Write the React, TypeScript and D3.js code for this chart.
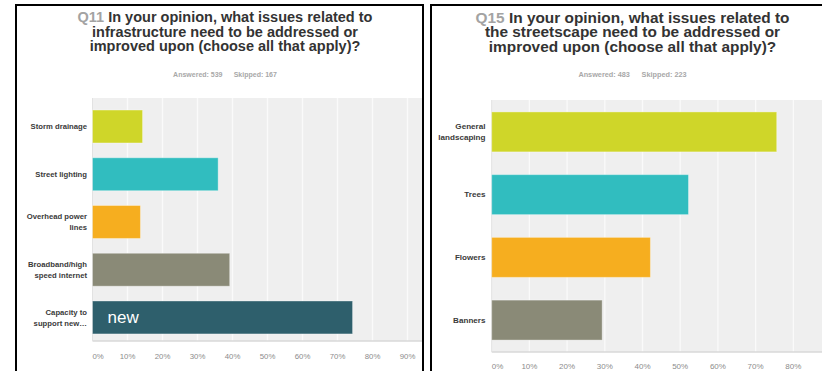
import React from "react";
import * as d3 from "d3";

const leftPrefix = "Q11";
const leftTitle = [
  "In your opinion, what issues related to",
  "infrastructure need to be addressed or",
  "improved upon (choose all that apply)?",
];
const leftAnswered = "Answered: 539";
const leftSkipped = "Skipped: 167";
const leftCategories = [
  "Storm drainage",
  "Street lighting",
  "Overhead power\nlines",
  "Broadband/high\nspeed internet",
  "Capacity to\nsupport new…",
];
const leftValues = [14.3, 35.9, 13.7, 39.2, 74.3];
const leftColors = ["#cfd629", "#31bdbf", "#f6ae1f", "#8a8a77", "#2e5f6c"];
const leftBarText = ["", "", "", "", "new"];
const leftTicks = [0, 10, 20, 30, 40, 50, 60, 70, 80, 90, 100];

const rightPrefix = "Q15";
const rightTitle = [
  "In your opinion, what issues related to",
  "the streetscape need to be addressed or",
  "improved upon (choose all that apply)?",
];
const rightAnswered = "Answered: 483";
const rightSkipped = "Skipped: 223";
const rightCategories = ["General\nlandscaping", "Trees", "Flowers", "Banners"];
const rightValues = [75.6, 52.2, 42.1, 29.3];
const rightColors = ["#cfd629", "#31bdbf", "#f6ae1f", "#8a8a77"];
const rightBarText = ["", "", "", ""];
const rightTicks = [0, 10, 20, 30, 40, 50, 60, 70, 80, 90];

const FONT = "'Liberation Sans', Arial, Helvetica, sans-serif";

type PanelProps = {
  id: string;
  box: { x: number; y: number; w: number; h: number };
  titleCx: number;
  titleSize: number;
  titleBase: number[];
  prefix: string;
  title: string[];
  answered: string;
  skipped: string;
  answeredY: number;
  statSize: number;
  categories: string[];
  values: number[];
  colors: string[];
  barText: string[];
  ticks: number[];
  x0: number;
  xStep10: number;
  yRange: [number, number];
  padInner: number;
  padOuter: number;
  align: number;
  plotTop: number;
  labelX: number;
  labelSize: number;
  labelLine: number;
  tickSize: number;
  tickY: number;
};

function Panel(p: PanelProps) {
  const x = d3.scaleLinear().domain([0, 10]).range([p.x0, p.x0 + p.xStep10]);
  const y = d3
    .scaleBand<string>()
    .domain(p.categories)
    .range(p.yRange)
    .paddingInner(p.padInner)
    .paddingOuter(p.padOuter)
    .align(p.align);
  const plotBottom = p.yRange[1];
  const right = p.box.x + p.box.w;
  return (
    <g>
      <defs>
        <clipPath id={p.id}>
          <rect x={p.box.x + 1} y={p.box.y + 1} width={p.box.w - 2} height={p.box.h - 2} />
        </clipPath>
      </defs>
      <g clipPath={`url(#${p.id})`}>
        <rect x={p.box.x} y={p.box.y} width={p.box.w} height={p.box.h} fill="#fff" />
        {p.title.map((t, i) => (
          <text
            key={i}
            x={p.titleCx}
            y={p.titleBase[i]}
            textAnchor="middle"
            fontFamily={FONT}
            fontSize={p.titleSize}
            fontWeight="bold"
            fill="#333"
          >
            {i === 0 ? (
              <>
                <tspan fill="#a3a3a3">{p.prefix} </tspan>
                {t}
              </>
            ) : (
              t
            )}
          </text>
        ))}
        <text
          x={p.titleCx}
          y={p.answeredY}
          textAnchor="middle"
          fontFamily={FONT}
          fontSize={p.statSize}
          fontWeight="bold"
          fill="#a8a8a8"
        >
          {p.answered}
          <tspan dx={p.statSize * 1.6}>{p.skipped}</tspan>
        </text>
        <rect
          x={p.x0}
          y={p.plotTop}
          width={right - p.x0}
          height={plotBottom - p.plotTop}
          fill="#efefef"
        />
        {p.ticks.slice(1).map((t) => (
          <line
            key={t}
            x1={x(t)}
            x2={x(t)}
            y1={p.plotTop}
            y2={plotBottom}
            stroke="#fafafa"
            strokeWidth={1.3}
          />
        ))}
        <line x1={p.x0} x2={right} y1={plotBottom} y2={plotBottom} stroke="#d9d9d9" strokeWidth={1.5} />
        <line x1={p.x0} x2={p.x0} y1={p.plotTop} y2={plotBottom} stroke="#e2e2e2" strokeWidth={1} />
        {p.categories.map((c, i) => (
          <g key={c}>
            <rect
              x={x(0)}
              y={y(c)!}
              width={x(p.values[i]) - x(0)}
              height={y.bandwidth()}
              fill={p.colors[i]}
              stroke="#ffffff"
              strokeOpacity={0.35}
              strokeWidth={1}
            />
            {p.barText[i] ? (
              <text
                x={x(0) + 15}
                y={y(c)! + y.bandwidth() / 2 + 6}
                fontFamily={FONT}
                fontSize={17}
                fill="#fff"
              >
                {p.barText[i]}
              </text>
            ) : null}
            {c.split("\n").map((ln, j, arr) => (
              <text
                key={j}
                x={p.labelX}
                y={
                  y(c)! +
                  y.bandwidth() / 2 +
                  (j - (arr.length - 1) / 2) * p.labelLine +
                  p.labelSize * 0.35
                }
                textAnchor="end"
                fontFamily={FONT}
                fontSize={p.labelSize}
                fontWeight="bold"
                fill="#3a3a3a"
              >
                {ln}
              </text>
            ))}
          </g>
        ))}
        {p.ticks.map((t, i) => (
          <text
            key={t}
            x={i === 0 ? x(0) : x(t)}
            y={p.tickY}
            textAnchor={i === 0 ? "start" : "middle"}
            fontFamily={FONT}
            fontSize={p.tickSize}
            fill="#8c8c8c"
          >
            {t}%
          </text>
        ))}
      </g>
      <rect
        x={p.box.x}
        y={p.box.y}
        width={p.box.w}
        height={p.box.h}
        fill="none"
        stroke="#000"
        strokeWidth={2}
      />
    </g>
  );
}

export default function App() {
  return (
    <svg
      width={822}
      height={371}
      style={{ position: "absolute", left: 0, top: 0, background: "#fff" }}
    >
      <Panel
        id="clipL"
        box={{ x: 16, y: 5, w: 407, h: 420 }}
        titleCx={225}
        titleSize={14.5}
        titleBase={[22, 36.5, 51]}
        prefix={leftPrefix}
        title={leftTitle}
        answered={leftAnswered}
        skipped={leftSkipped}
        answeredY={76.5}
        statSize={7}
        categories={leftCategories}
        values={leftValues}
        colors={leftColors}
        barText={leftBarText}
        ticks={leftTicks}
        x0={92.5}
        xStep10={35}
        yRange={[98, 341]}
        padInner={0.31}
        padOuter={0.2}
        align={0.63}
        plotTop={98}
        labelX={87}
        labelSize={7.7}
        labelLine={11}
        tickSize={7.8}
        tickY={359}
      />
      <Panel
        id="clipR"
        box={{ x: 431, y: 5, w: 420, h: 420 }}
        titleCx={632.5}
        titleSize={15.4}
        titleBase={[22.5, 36.5, 51.5]}
        prefix={rightPrefix}
        title={rightTitle}
        answered={rightAnswered}
        skipped={rightSkipped}
        answeredY={76.5}
        statSize={7.3}
        categories={rightCategories}
        values={rightValues}
        colors={rightColors}
        barText={rightBarText}
        ticks={rightTicks}
        x0={491.7}
        xStep10={37.7}
        yRange={[100, 352]}
        padInner={0.363}
        padOuter={0.19}
        align={0.5}
        plotTop={100}
        labelX={485.5}
        labelSize={8.1}
        labelLine={11.3}
        tickSize={8}
        tickY={368.5}
      />
    </svg>
  );
}
